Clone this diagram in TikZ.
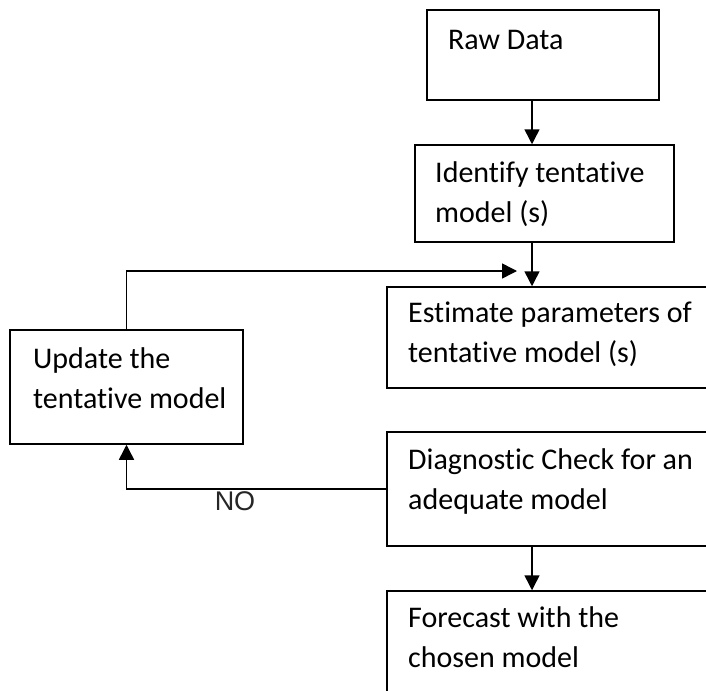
\documentclass[tikz,border=0pt]{standalone}
\usepackage{fontspec}
\setmainfont{Carlito}[Ligatures={NoCommon}]
\newfontfamily\nofont{Liberation Sans}
\usetikzlibrary{arrows.meta}
\begin{document}
\begin{tikzpicture}[x=1pt,y=-1pt,
  box/.style={draw=black,line width=1.5pt,rectangle,inner sep=0pt,fill=white},
  txt/.style={anchor=base west,align=left,inner sep=0pt,font=\fontsize{30}{39.5}\selectfont},
  arr/.style={line width=1.5pt,-{Triangle[length=15pt,width=15pt]}},
  ln/.style={line width=1.5pt}]
\clip (0,0) rectangle (706,690);
\fill[white] (0,0) rectangle (706,690);
\coordinate (spine) at (532,0);
\node[box,minimum width=232pt,minimum height=90pt] (raw) at (543,55) {};
\node[box,minimum width=259pt,minimum height=97pt] (ident) at (544.5,193.5) {};
\node[box,minimum width=353pt,minimum height=101pt] (est) at (563.5,337.5) {};
\node[box,minimum width=353pt,minimum height=114pt] (diag) at (563.5,489) {};
\node[box,minimum width=353pt,minimum height=129pt] (fore) at (563.5,655.5) {};
\node[box,minimum width=233pt,minimum height=114pt] (upd) at (126.5,387) {};

\node[txt] (traw) at (448,50) {Raw Data};
\node[txt] (tident) at (435,222) {Identify tentative\\model (s)};
\node[txt] (test) at (408,362) {Estimate parameters of\\tentative model (s)};
\node[txt] (tdiag) at (408,509) {Diagnostic Check for an\\adequate model};
\node[txt] (tfore) at (408,667) {Forecast with the\\chosen model};
\node[txt] (tupd) at (33,408) {Update the\\tentative model};

\draw[arr] (raw.south -| spine) -- (ident.north -| spine);
\draw[arr] (ident.south -| spine) -- (est.north -| spine);
\draw[arr] (diag.south -| spine) -- (fore.north -| spine);
\coordinate (fbend) at (517,271);
\draw[arr] (upd.north) |- (fbend);
\draw[arr] (diag.west) -| (upd.south);
\node[anchor=base,inner sep=0pt,font=\nofont\fontsize{27}{30}\selectfont,text=black!85] (no) at (235,510) {NO};
\end{tikzpicture}
\end{document}
